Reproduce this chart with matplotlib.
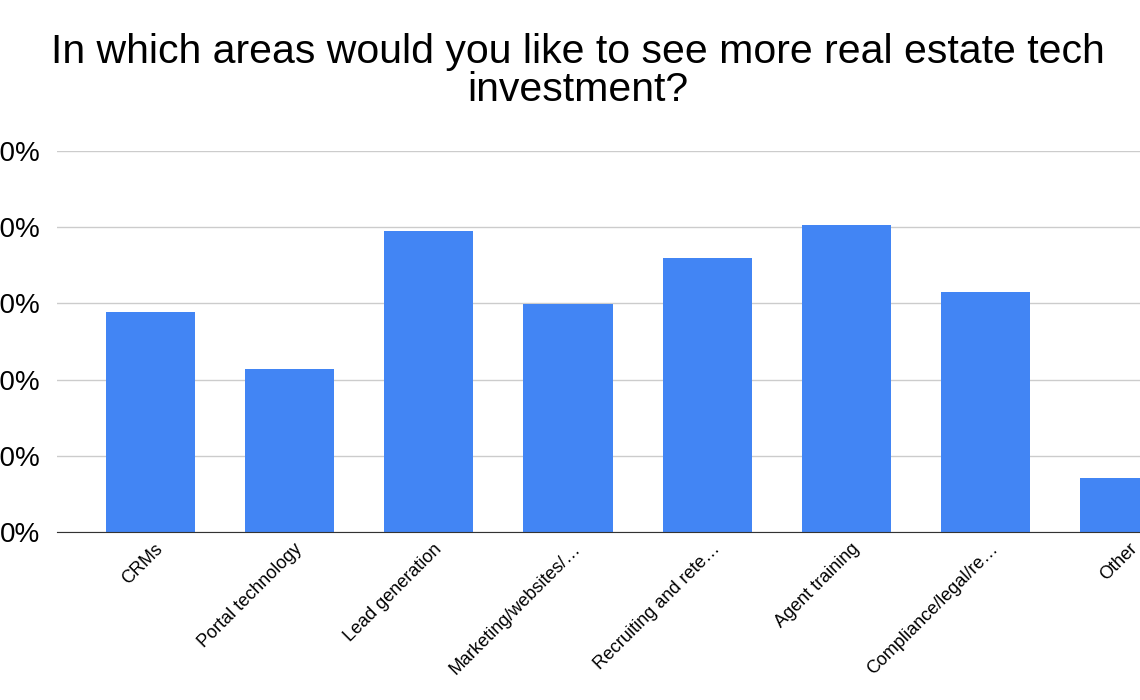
import matplotlib.pyplot as plt
from matplotlib.ticker import FuncFormatter
from matplotlib.transforms import ScaledTranslation

plt.rcParams['font.family'] = ['Liberation Sans', 'DejaVu Sans']

categories = ['CRMs', 'Portal technology', 'Lead generation', 'Marketing/websites/…',
              'Recruiting and rete…', 'Agent training', 'Compliance/legal/re…', 'Other']
values = [0.289, 0.214, 0.395, 0.299, 0.360, 0.403, 0.315, 0.071]
yticks = [0, 0.1, 0.2, 0.3, 0.4, 0.5]

fig = plt.figure(figsize=(11.4, 7), dpi=100)
ax = fig.add_axes([57 / 1140, 168 / 700, 1 - 57 / 1140, 381 / 700])

x = list(range(len(categories)))
ax.bar(x, values, width=0.64, color='#4285F4', zorder=3)

ax.set_xlim(-0.67, 7.108)
ax.set_ylim(0, 0.5)
ax.set_yticks(yticks)
ax.yaxis.set_major_formatter(FuncFormatter(lambda v, p: f'{v * 100:.0f}%'))
ax.grid(axis='y', color='#cccccc', linewidth=1, zorder=0)
ax.tick_params(axis='y', length=0, pad=12, labelsize=20)
ax.tick_params(axis='x', length=0, pad=6)

ax.set_xticks(x)
labels = ax.set_xticklabels(categories, rotation=45, ha='right', rotation_mode='anchor', fontsize=13)
# google charts puts the label end a little right of the tick
for lab in labels:
    lab.set_transform(lab.get_transform() + ScaledTranslation(0.04, 0, fig.dpi_scale_trans))

for s in ['top', 'right', 'left']:
    ax.spines[s].set_visible(False)
ax.spines['bottom'].set_color('#333333')
ax.spines['bottom'].set_zorder(4)

fig.text(0.507, 0.899, 'In which areas would you like to see more real estate tech\ninvestment?',
         ha='center', va='center', fontsize=29.5, linespacing=1.0)

fig.savefig('out.png', dpi=100)
